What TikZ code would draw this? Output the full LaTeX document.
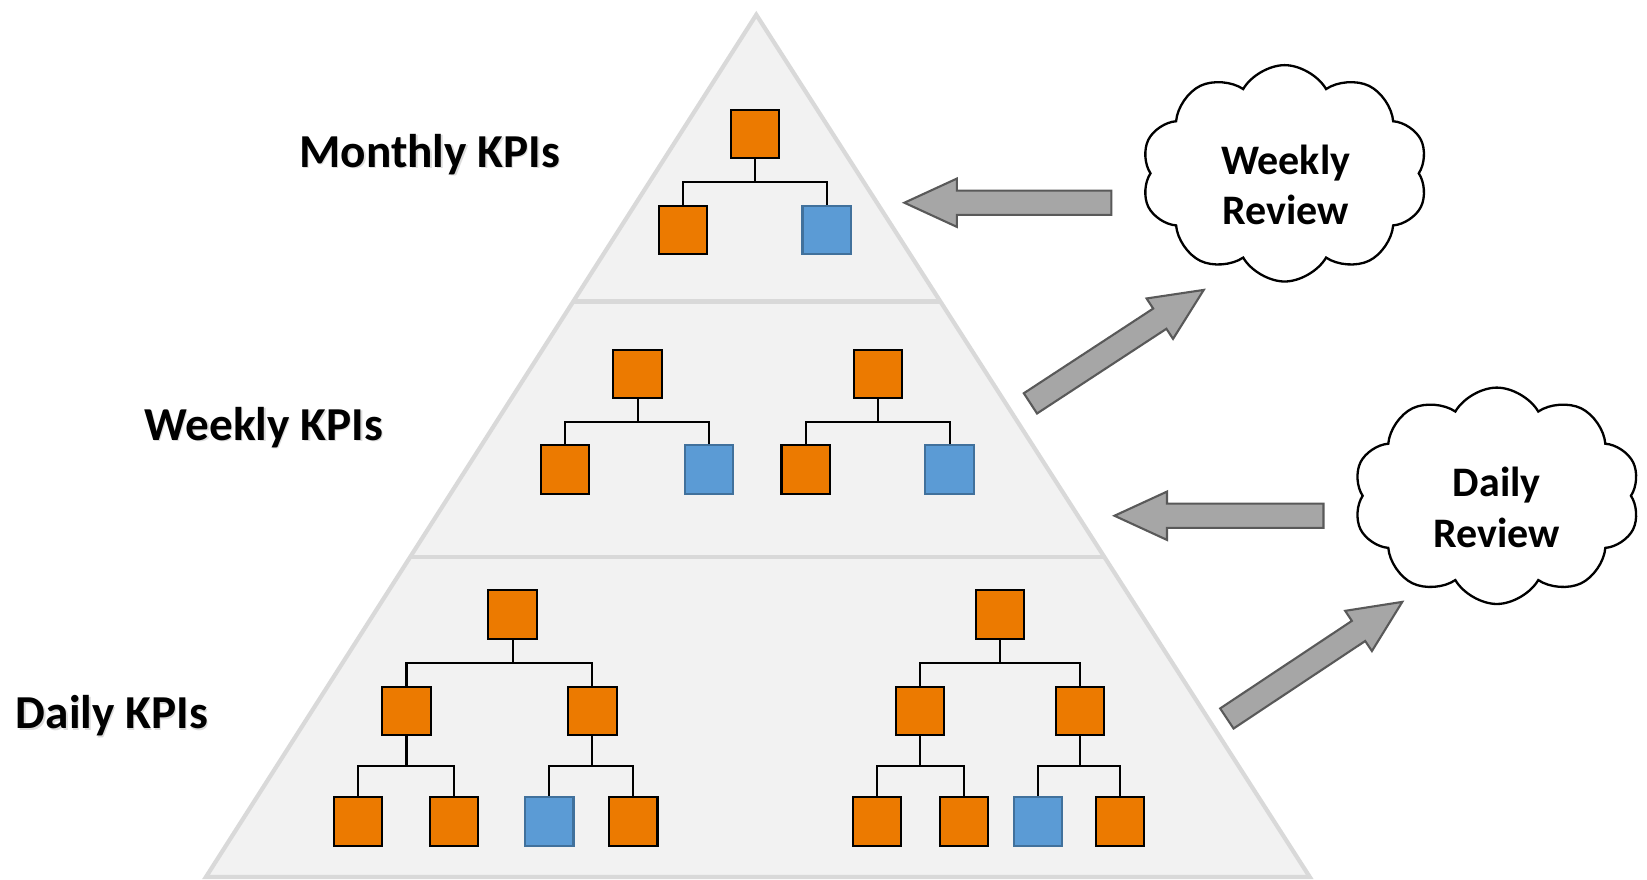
\documentclass[tikz,border=0pt]{standalone}
\usepackage{fontspec}
\setmainfont{Carlito}
\usetikzlibrary{shapes.symbols,calc}

\definecolor{kpiorange}{HTML}{EC7A00}
\definecolor{kpiblue}{HTML}{5B9BD5}
\definecolor{kpiblueline}{HTML}{41719C}
\definecolor{bandfill}{HTML}{F2F2F2}
\definecolor{bandline}{HTML}{D9D9D9}
\definecolor{arrowfill}{HTML}{A6A6A6}
\definecolor{arrowline}{HTML}{595959}

\tikzset{
  okpi/.style={draw=black, fill=kpiorange, line width=1pt, minimum size=23pt, inner sep=0pt},
  bkpi/.style={draw=kpiblueline, fill=kpiblue, line width=1pt, minimum size=23pt, inner sep=0pt},
  link/.style={draw=black, line width=1pt},
  levellabel/.style={font=\bfseries\fontsize{22.5}{27}\selectfont, anchor=base, inner sep=0pt},
  labelshadow/.style={levellabel, text=black!30, opacity=.45},
  cloudbox/.style={cloud, cloud puffs=10, cloud puff arc=120, cloud ignores aspect,
    draw=black, line width=1.1pt, fill=white, minimum width=136.5pt, minimum height=103pt, inner sep=0pt},
  cloudtext/.style={font=\bfseries\fontsize{20}{24}\selectfont, align=center, inner sep=0pt},
  blockarrow/.style={fill=arrowfill, draw=arrowline, line width=1pt, line join=miter},
  band/.style={fill=bandfill, draw=bandline, line width=2pt, line join=miter},
  divider/.style={draw=bandline, line width=2pt},
}

% elbow connector from a parent box down to a child box
\newcommand\kpibranch[2]{\path[link] (#1.south) |- ($(#1.south)!.5!(#2.north)$) -| (#2.north);}

% wide block arrow: #1 name prefix, #2 tail coordinate, #3 tip coordinate
\newcommand\kpiarrow[3]{%
  \coordinate (#1-neck) at ($(#3)!25pt!(#2)$);
  \path[blockarrow] ($(#2)!5.75pt!90:(#3)$) -- ($(#1-neck)!5.75pt!90:(#3)$)
    -- ($(#1-neck)!11.5pt!90:(#3)$) -- (#3) -- ($(#1-neck)!11.5pt!-90:(#3)$)
    -- ($(#1-neck)!5.75pt!-90:(#3)$) -- ($(#2)!5.75pt!-90:(#3)$) -- cycle;}

\begin{document}
\begin{tikzpicture}[x=0.5pt, y=-0.5pt]
\useasboundingbox (0,0) rectangle (1568,837);

% pyramid with three bands
\coordinate (apex) at (720,14);
\coordinate (bl) at (196,835);
\coordinate (br) at (1247,835);
\path[band] (apex) -- (br) -- (bl) -- cycle;
\path[divider] ($(apex)!0.3325!(bl)$) -- ($(apex)!0.3325!(br)$);
\path[divider] ($(apex)!0.6285!(bl)$) -- ($(apex)!0.6285!(br)$);

% level labels
\node[labelshadow] (mlabel-sh) at (410.5,160.5) {Monthly KPIs};
\node[levellabel] (mlabel) at (409,159) {Monthly KPIs};
\node[labelshadow] (wlabel-sh) at (252.5,420.5) {Weekly KPIs};
\node[levellabel] (wlabel) at (251,419) {Weekly KPIs};
\node[labelshadow] (dlabel-sh) at (108,695) {Daily KPIs};
\node[levellabel] (dlabel) at (106.5,693.5) {Daily KPIs};

% monthly tree
\node[okpi] (m0) at (719,127.5) {};
\node[okpi] (m1) at (650,219) {};
\node[bkpi] (m2) at (787,219) {};
\kpibranch{m0}{m1}\kpibranch{m0}{m2}

% weekly trees
\node[okpi] (w10) at (607,356) {};
\node[okpi] (w11) at (538,447) {};
\node[bkpi] (w12) at (675,447) {};
\kpibranch{w10}{w11}\kpibranch{w10}{w12}
\node[okpi] (w20) at (836,356) {};
\node[okpi] (w21) at (767,447) {};
\node[bkpi] (w22) at (904,447) {};
\kpibranch{w20}{w21}\kpibranch{w20}{w22}

% daily trees
\node[okpi] (d10) at (488,585) {};
\node[okpi] (d11) at (387,677) {};
\node[okpi] (d12) at (564,677) {};
\node[okpi] (d111) at (341,782) {};
\node[okpi] (d112) at (432,782) {};
\node[bkpi] (d121) at (523,782) {};
\node[okpi] (d122) at (603,782) {};
\kpibranch{d10}{d11}\kpibranch{d10}{d12}
\kpibranch{d11}{d111}\kpibranch{d11}{d112}
\kpibranch{d12}{d121}\kpibranch{d12}{d122}

\node[okpi] (d20) at (952,585) {};
\node[okpi] (d21) at (876,677) {};
\node[okpi] (d22) at (1028,677) {};
\node[okpi] (d211) at (835,782) {};
\node[okpi] (d212) at (918,782) {};
\node[bkpi] (d221) at (988,782) {};
\node[okpi] (d222) at (1066,782) {};
\kpibranch{d20}{d21}\kpibranch{d20}{d22}
\kpibranch{d21}{d211}\kpibranch{d21}{d212}
\kpibranch{d22}{d221}\kpibranch{d22}{d222}

% review clouds
\node[cloudbox] (wcloud) at (1223,165) {};
\node[cloudtext] (wcloudtext) at (1224,176) {Weekly\\Review};
\node[cloudbox] (dcloud) at (1425,472) {};
\node[cloudtext] (dcloudtext) at (1425,483) {Daily\\Review};

% feedback arrows
\coordinate (a1tail) at (1058,193); \coordinate (a1tip) at (861,193);
\coordinate (a2tail) at (981,384);  \coordinate (a2tip) at (1146,276);
\coordinate (a3tail) at (1260,491); \coordinate (a3tip) at (1061,491);
\coordinate (a4tail) at (1168,684); \coordinate (a4tip) at (1335,573);
\kpiarrow{a1}{a1tail}{a1tip}
\kpiarrow{a2}{a2tail}{a2tip}
\kpiarrow{a3}{a3tail}{a3tip}
\kpiarrow{a4}{a4tail}{a4tip}
\end{tikzpicture}
\end{document}
